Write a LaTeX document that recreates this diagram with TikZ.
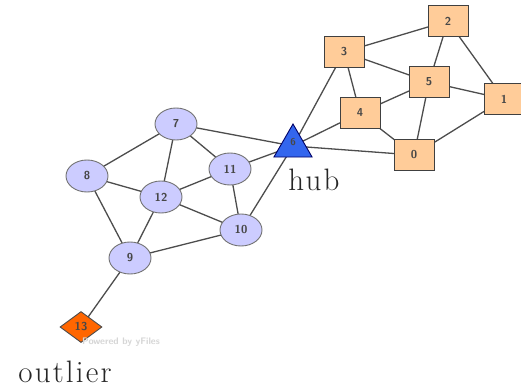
\documentclass[tikz,border=0pt]{standalone}
\usepackage{fontspec}
\newfontfamily\tagfont{Latin Modern Roman}[LetterSpace=7]
\usetikzlibrary{shapes.geometric,backgrounds}
\definecolor{peach}{HTML}{FFCC99}
\definecolor{lavender}{HTML}{CCCCFF}
\definecolor{hubblue}{HTML}{3366EE}
\definecolor{outorange}{HTML}{FF6600}
\definecolor{edgegray}{HTML}{4D4D4D}
\tikzset{
  lbl/.style={font=\sffamily\bfseries\fontsize{11.5}{11.5}\selectfont, text=black!72},
  sq/.style={lbl, rectangle, draw=black!75, line width=0.9pt, fill=peach,
    minimum width=40pt, minimum height=31pt, inner sep=0pt},
  circ/.style={lbl, ellipse, draw=black!55, line width=0.9pt, fill=lavender,
    minimum width=42pt, minimum height=32pt, inner sep=0pt},
  tri/.style={regular polygon, regular polygon sides=3, draw=blue!40!black,
    line width=0.9pt, fill=hubblue, minimum size=44pt, inner sep=0pt},
  dia/.style={lbl, diamond, draw=black!70, line width=0.9pt, fill=outorange,
    minimum width=42pt, minimum height=31pt, inner sep=0pt, aspect=1.35},
  edge/.style={draw=edgegray, line width=1.3pt},
  tag/.style={font=\tagfont\fontsize{31}{31}\selectfont, text=black!85}
}
\begin{document}
\begin{tikzpicture}[x=1pt,y=-1pt]
\useasboundingbox (0,0) rectangle (521,389);

% square cluster
\node[sq] (n2) at (448,21) {2};
\node[sq] (n3) at (344,52) {3};
\node[sq] (n5) at (429,82) {5};
\node[sq] (n1) at (504,99) {1};
\node[sq] (n4) at (360,113) {4};
\node[sq] (n0) at (414,155) {0};

% hub
\node[tri] (n6) at (293,146) {};
\node[lbl, font=\sffamily\bfseries\fontsize{10}{10}\selectfont] (l6) at (293,142) {6};
\node[tag] (hub) at (314,180) {hub};

% circle cluster
\node[circ] (n7) at (176,124) {7};
\node[circ] (n8) at (87,176) {8};
\node[circ] (n11) at (230,169) {11};
\node[circ] (n12) at (161,197) {12};
\node[circ] (n10) at (241,230) {10};
\node[circ] (n9) at (130,258) {9};

% outlier
\node[dia] (n13) at (81,327) {13};
\node[tag] (outl) at (65,372) {outlier};
\node[font=\sffamily\bfseries\fontsize{9.5}{9.5}\selectfont, text=black!16] (wm) at (121,342) {Powered by yFiles};

% white page, then the connections, both behind the nodes
\begin{scope}[on background layer]
\fill[white] (0,0) rectangle (521,389);
\foreach \a/\b in {n6/n3, n6/n4, n6/n0, n6/n7, n6/n11, n6/n10,
                   n3/n2, n3/n5, n3/n4, n2/n5, n2/n1, n5/n4, n5/n1, n5/n0,
                   n4/n0, n0/n1,
                   n7/n8, n7/n12, n7/n11, n8/n12, n8/n9, n12/n11, n12/n10,
                   n12/n9, n11/n10, n9/n10, n9/n13}
  \draw[edge] (\a.center) -- (\b.center);
\end{scope}
\end{tikzpicture}
\end{document}
